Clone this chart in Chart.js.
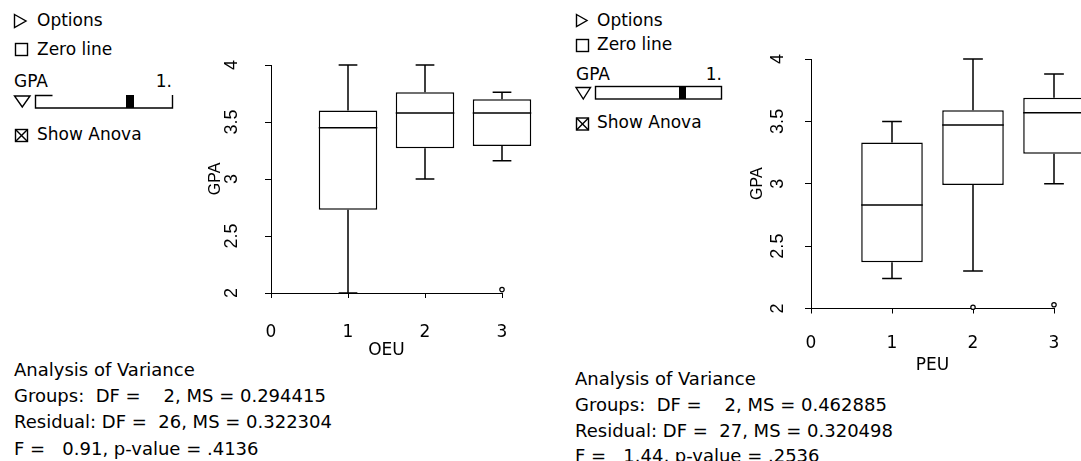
<!DOCTYPE html>
<html><head><meta charset="utf-8">
<script src="https://cdn.jsdelivr.net/npm/chart.js@4.4.1/dist/chart.umd.min.js"></script>
<style>
html,body{margin:0;padding:0;background:#fff;overflow:hidden;width:1081px;height:461px;}
body{position:relative;font-family:"DejaVu Sans",sans-serif;font-size:17px;color:#000;}
.t{position:absolute;white-space:pre;line-height:17px;}
.a{position:absolute;white-space:pre;line-height:18px;font-size:18px;}
.cv{position:absolute;}
svg.g{position:absolute;left:0;top:0;}
</style></head><body>
<svg class="g" width="1081" height="461">
  <g fill="none" stroke="#000" stroke-width="1.4">
    <polygon points="14.5,14.5 26,21 14.5,27.5"/>
    <rect x="15.5" y="43.5" width="12" height="12"/>
    <polygon points="14.5,96 30,96 22.25,107"/>
    <polyline points="52.5,95.5 35.5,95.5 35.5,108 172.5,108 172.5,95"/>
    <rect x="15.5" y="129.5" width="12" height="12"/>
    <line x1="15.5" y1="129.5" x2="27.5" y2="141.5"/>
    <line x1="27.5" y1="129.5" x2="15.5" y2="141.5"/>
    <polygon points="576.5,14.5 587,20.5 576.5,26.5"/>
    <rect x="576.5" y="39.5" width="12" height="12"/>
    <polygon points="576,87.5 590.5,87.5 583.25,99"/>
    <rect x="595.5" y="86.5" width="126" height="12.5"/>
    <rect x="576.5" y="118" width="12" height="12"/>
    <line x1="576.5" y1="118" x2="588.5" y2="130"/>
    <line x1="588.5" y1="118" x2="576.5" y2="130"/>
  </g>
  <rect x="126" y="95" width="8" height="13" fill="#000"/>
  <rect x="679" y="86.5" width="7" height="12.5" fill="#000"/>
</svg>
<div class="t" style="left:37px;top:12px">Options</div>
<div class="t" style="left:37px;top:40.5px">Zero line</div>
<div class="t" style="left:14px;top:73px">GPA</div>
<div class="t" style="left:132px;top:73px;width:40px;text-align:right">1.</div>
<div class="t" style="left:37px;top:126px">Show Anova</div>

<div class="t" style="left:597px;top:11.5px">Options</div>
<div class="t" style="left:597px;top:36px">Zero line</div>
<div class="t" style="left:576px;top:66px">GPA</div>
<div class="t" style="left:682px;top:66px;width:40px;text-align:right">1.</div>
<div class="t" style="left:597px;top:114px">Show Anova</div>

<div class="a" style="left:14px;top:361px">Analysis of Variance</div>
<div class="a" style="left:14px;top:387px">Groups:  DF =    2, MS = 0.294415</div>
<div class="a" style="left:14px;top:413px">Residual: DF =  26, MS = 0.322304</div>
<div class="a" style="left:14px;top:439.5px">F =   0.91, p-value = .4136</div>

<div class="a" style="left:575px;top:370px">Analysis of Variance</div>
<div class="a" style="left:575px;top:396px">Groups:  DF =    2, MS = 0.462885</div>
<div class="a" style="left:575px;top:421.5px">Residual: DF =  27, MS = 0.320498</div>
<div class="a" style="left:575px;top:447px">F =   1.44, p-value = .2536</div>

<canvas id="c1" class="cv" style="left:180px;top:0px" width="380" height="380"></canvas>
<canvas id="c2" class="cv" style="left:740px;top:0px" width="360" height="400"></canvas>
<script>
// ---- data: OEU panel ----
const oeuGroups = [1, 2, 3];
const oeuQ1     = [2.73, 3.27, 3.29];
const oeuMedian = [3.45, 3.58, 3.58];
const oeuQ3     = [3.60, 3.76, 3.70];
const oeuLow    = [2.00, 3.00, 3.16];
const oeuHigh   = [4.00, 4.00, 3.76];
const oeuOutX   = [3];
const oeuOutY   = [2.03];
// ---- data: PEU panel ----
const peuGroups = [1, 2, 3];
const peuQ1     = [2.37, 2.99, 3.24];
const peuMedian = [2.83, 3.47, 3.57];
const peuQ3     = [3.33, 3.59, 3.69];
const peuLow    = [2.24, 2.30, 3.00];
const peuHigh   = [3.50, 4.00, 3.88];
const peuOutX   = [2, 3];
const peuOutY   = [2.01, 2.03];
// ---- tick labels ----
const xTicks = [0, 1, 2, 3];
const xTickLabels = ['0', '1', '2', '3'];
const yTicks = [2, 2.5, 3, 3.5, 4];
const yTickLabels = ['2', '2.5', '3', '3.5', '4'];

const boxPlugin = {
  id: 'boxWhisk',
  afterDatasetsDraw(chart, args, o) {
    const meta = chart.getDatasetMeta(0);
    const y = chart.scales.y;
    const ctx = chart.ctx;
    ctx.save();
    ctx.strokeStyle = '#000';
    ctx.lineWidth = o.lineWidth;
    meta.data.forEach((bar, i) => {
      const cx = bar.x, hw = bar.width / 2, cw = hw * o.cap;
      const yq1 = y.getPixelForValue(o.q1[i]);
      const yq3 = y.getPixelForValue(o.q3[i]);
      const ym = y.getPixelForValue(o.median[i]);
      const yl = y.getPixelForValue(o.low[i]);
      const yh = y.getPixelForValue(o.high[i]);
      ctx.beginPath();
      ctx.moveTo(cx - hw, ym); ctx.lineTo(cx + hw, ym);
      ctx.moveTo(cx, yq3); ctx.lineTo(cx, yh);
      ctx.moveTo(cx - cw, yh); ctx.lineTo(cx + cw, yh);
      ctx.moveTo(cx, yq1); ctx.lineTo(cx, yl);
      ctx.moveTo(cx - cw, yl); ctx.lineTo(cx + cw, yl);
      ctx.stroke();
    });
    ctx.restore();
  }
};

function makeChart(id, d, L) {
  return new Chart(document.getElementById(id), {
    type: 'bar',
    data: {
      datasets: [
        {
          type: 'bar',
          data: d.groups.map((g, i) => ({ x: g, y: [d.q1[i], d.q3[i]] })),
          backgroundColor: '#fff', borderColor: '#000', borderWidth: 1.5,
          borderSkipped: false, barPercentage: 0.76, categoryPercentage: 1,
          clip: false
        },
        {
          type: 'scatter',
          data: d.outX.map((x, i) => ({ x: x, y: d.outY[i] })),
          pointStyle: 'circle', pointRadius: 2.2, borderWidth: 1.2,
          borderColor: '#000', backgroundColor: '#fff', clip: false
        }
      ]
    },
    options: {
      responsive: false, animation: false,
      layout: { padding: L.pad },
      plugins: {
        legend: { display: false }, tooltip: { enabled: false },
        boxWhisk: { q1: d.q1, q3: d.q3, median: d.median, low: d.low, high: d.high, cap: 0.32, lineWidth: 1.5 }
      },
      scales: {
        x: {
          type: 'linear', min: 0, max: 3, offset: false,
          afterFit: s => { s.height = 70; },
          afterBuildTicks: s => { s.ticks = xTicks.map(v => ({ value: v })); },
          border: { display: true, color: '#000', width: 1 },
          grid: { offset: false, drawOnChartArea: false, drawTicks: true, tickLength: 5, tickColor: '#000', tickWidth: 1 },
          ticks: { padding: L.xPad, color: '#000', maxRotation: 0, autoSkip: false,
                   callback: (v, i) => xTickLabels[i], font: { family: 'DejaVu Sans', size: 17 } },
          title: { display: true, text: d.xTitle, color: '#000', font: { family: 'DejaVu Sans', size: 17 }, padding: { top: 0, bottom: L.xTitlePad } }
        },
        y: {
          min: 2, max: 4, position: 'left',
          afterFit: s => { s.width = L.yWidth; },
          afterBuildTicks: s => { s.ticks = yTicks.map(v => ({ value: v })); },
          border: { display: true, color: '#000', width: 1 },
          grid: { drawOnChartArea: false, drawTicks: true, tickLength: 6, tickColor: '#000', tickWidth: 1 },
          ticks: { minRotation: 90, maxRotation: 90, crossAlign: 'center', padding: L.yPad, autoSkip: false, color: '#000',
                   callback: (v, i) => yTickLabels[i], font: { family: 'Liberation Sans', size: 18 } },
          title: { display: true, text: 'GPA', color: '#000', font: { family: 'Liberation Sans', size: 16 }, padding: { top: L.yTitlePad, bottom: 0 } }
        }
      }
    },
    plugins: [boxPlugin]
  });
}

makeChart('c1', {
  groups: oeuGroups, q1: oeuQ1, q3: oeuQ3, median: oeuMedian, low: oeuLow, high: oeuHigh,
  outX: oeuOutX, outY: oeuOutY, xTitle: 'OEU'
}, { pad: { left: 0, right: 58, top: 65, bottom: 17 }, yWidth: 91, yPad: 20, yTitlePad: 26, xPad: 24, xTitlePad: 2 });

makeChart('c2', {
  groups: peuGroups, q1: peuQ1, q3: peuQ3, median: peuMedian, low: peuLow, high: peuHigh,
  outX: peuOutX, outY: peuOutY, xTitle: 'PEU'
}, { pad: { left: 0, right: 46, top: 59, bottom: 21.5 }, yWidth: 71, yPad: 14, yTitlePad: 8, xPad: 20, xTitlePad: 3 });
</script>
</body></html>
